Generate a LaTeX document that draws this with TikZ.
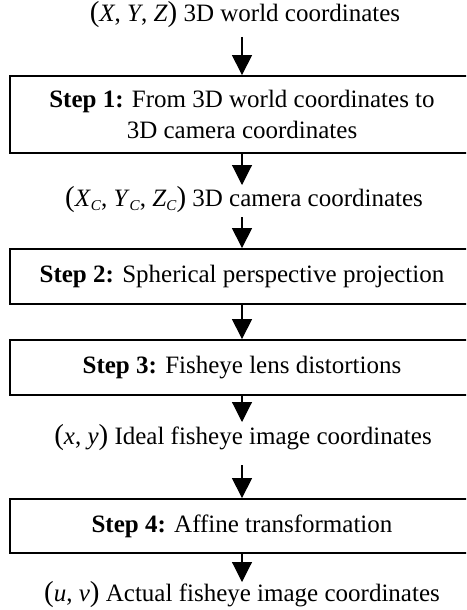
\documentclass[tikz,border=0pt]{standalone}
\usepackage{fontspec}
\setmainfont{Liberation Serif}
\usetikzlibrary{arrows.meta}
\newcommand{\mv}[1]{\textit{#1}}
\newcommand{\bp}[1]{{\fontsize{29}{31}\selectfont #1}}
\newcommand{\sbC}{\raisebox{-0.35ex}{\fontsize{15}{15}\selectfont\mv{C}}}
\begin{document}
\begin{tikzpicture}[x=1pt,y=-1pt,
  font=\fontsize{25}{31}\selectfont,
  stepbox/.style={draw=black, line width=1.8pt, minimum width=464pt, align=center, inner sep=0pt},
  lbl/.style={inner sep=0pt, anchor=center},
  arr/.style={line width=1.1pt, -{Triangle[width=20pt,length=20pt]}}]
\useasboundingbox (0,0) rectangle (466,610);
\clip (0,0) rectangle (466,610);
\node[lbl] (t0) at (245,15) {\bp{(}\mv{X}, \mv{Y}, \mv{Z}\bp{)} 3D world coordinates};
\node[stepbox, minimum height=77pt] (b1) at (242,114.5) {\textbf{Step 1:} From 3D world coordinates to\\3D camera coordinates};
\node[lbl] (t1) at (244,200) {\bp{(}\mv{X}\sbC, \mv{Y}\sbC, \mv{Z}\sbC\bp{)} 3D camera coordinates};
\node[stepbox, minimum height=55pt] (b2) at (242,276.5) {\textbf{Step 2:} Spherical perspective projection};
\node[stepbox, minimum height=55pt] (b3) at (242,367.5) {\textbf{Step 3:} Fisheye lens distortions};
\node[lbl] (t2) at (243,438) {\bp{(}\mv{x}, \mv{y}\bp{)} Ideal fisheye image coordinates};
\node[stepbox, minimum height=54pt] (b4) at (242,526) {\textbf{Step 4:} Affine transformation};
\node[lbl] (t3) at (242,595) {\bp{(}\mv{u}, \mv{v}\bp{)} Actual fisheye image coordinates};
\draw[arr] (242,37) -- (b1.north);
\draw[arr] (b1.south) -- (242,185);
\draw[arr] (242,217) -- (b2.north);
\draw[arr] (b2.south) -- (b3.north);
\draw[arr] (b3.south) -- (242,422);
\draw[arr] (242,465) -- (b4.north);
\draw[arr] (b4.south) -- (242,582);
\end{tikzpicture}
\end{document}
